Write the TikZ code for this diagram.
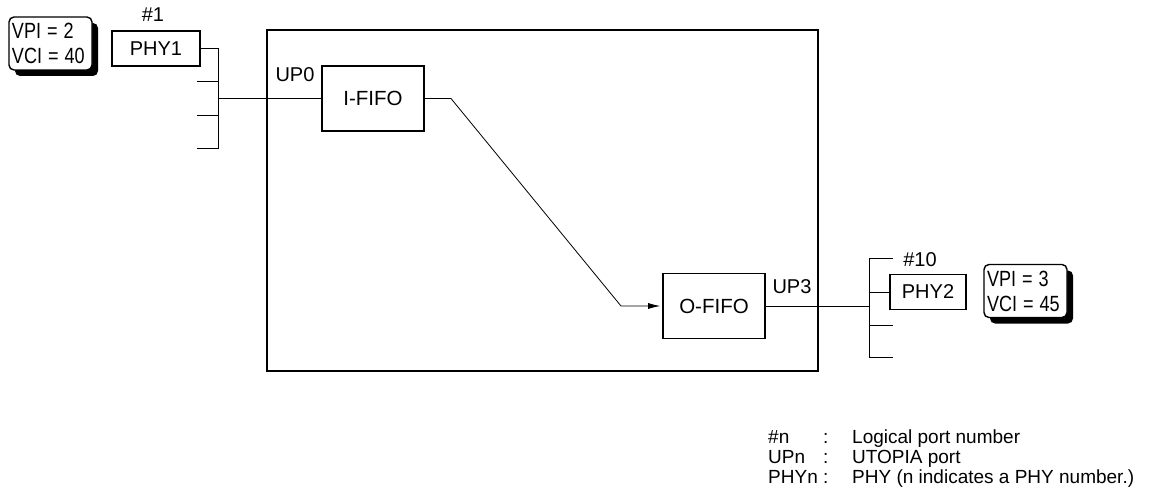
\documentclass[tikz,border=0pt]{standalone}
\usepackage{fontspec}
\setmainfont{Liberation Sans}
\usetikzlibrary{arrows.meta,shadows}
\newcommand{\vtxt}[1]{\scalebox{0.82}[1]{#1}}
\begin{document}
\begin{tikzpicture}[x=1pt,y=-1pt]
    % Stili
    \tikzset{
        fifo/.style={rectangle, draw, line width=1.6pt, minimum width=102pt, minimum height=65pt, inner sep=0pt, font=\fontsize{20.5}{24}\selectfont},
        phy/.style={rectangle, draw, line width=1.8pt, minimum height=35pt, inner sep=0pt, font=\fontsize{20}{24}\selectfont},
        vcbox/.style={rectangle, draw, rounded corners=5pt, line width=1.4pt, fill=white, text width=77pt, minimum height=53pt, inner xsep=3pt, inner ysep=2pt, align=left, font=\fontsize{22}{25}\selectfont, drop shadow={shadow xshift=6pt, shadow yshift=-6pt, fill=black, opacity=1}},
        tag/.style={inner sep=0pt, font=\fontsize{20}{24}\selectfont},
        key/.style={inner sep=0pt, anchor=base west, font=\fontsize{19}{22}\selectfont},
        wire/.style={line width=0.8pt}
    }
    \useasboundingbox (0,0) rectangle (1173,503);

    % Scheda
    \draw[line width=1.8pt] (267,30) rectangle (818,371);
    \node[fifo] (ififo) at (373,98.5) {I-FIFO};
    \node[fifo] (ofifo) at (714,306) {O-FIFO};
    \node[tag] (up0) at (295,75) {UP0};
    \node[tag] (up3) at (792,287) {UP3};

    % Lato ingresso
    \node[vcbox] (vc1) at (50.5,43.5) {\vtxt{VPI = 2}\\\vtxt{VCI = 40}};
    \node[phy, minimum width=88pt] (phy1) at (156,48.5) {PHY1};
    \node[tag] (port1) at (153,15) {\#1};
    \coordinate (la) at (218,48.5);
    \coordinate (lb) at (218,148);
    \coordinate (lj) at (218,98.5);
    \draw[wire] (phy1.east) -- (la) -- (lb) -- (197,148);
    \draw[wire] (197,81) -- (218,81);
    \draw[wire] (197,115) -- (218,115);
    \draw[wire] (lj) -- (ififo.west);

    % Percorso della cella
    \draw[wire, -{Latex[length=12pt,width=6pt]}, shorten >=2pt] (ififo.east) -- (451,98.5) -- (621,306) -- (ofifo.west);

    % Lato uscita
    \node[phy, minimum width=76pt] (phy2) at (928,292) {PHY2};
    \node[tag] (port10) at (920,259.5) {\#10};
    \node[vcbox] (vc2) at (1025.5,291) {\vtxt{VPI = 3}\\\vtxt{VCI = 45}};
    \coordinate (rj) at (869,306);
    \draw[wire] (ofifo.east) -- (rj);
    \draw[wire] (893,258) -- (869,258) -- (869,357) -- (893,357);
    \draw[wire] (869,325) -- (893,325);
    \draw[wire] (869,292) -- (phy2.west);

    % Legenda
    \node[key] (k1) at (768,443) {\#n};
    \node[key] (c1) at (823,443) {:};
    \node[key] (t1) at (852,443) {Logical port number};
    \node[key] (k2) at (768,463) {UPn};
    \node[key] (c2) at (823,463) {:};
    \node[key] (t2) at (852,463) {UTOPIA port};
    \node[key] (k3) at (768,483) {PHYn};
    \node[key] (c3) at (823,483) {:};
    \node[key] (t3) at (852,483) {PHY (n indicates a PHY number.)};
\end{tikzpicture}
\end{document}
